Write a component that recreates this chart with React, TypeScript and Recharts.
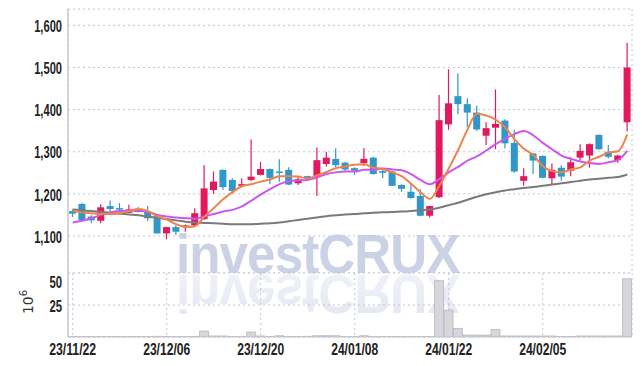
import { ComposedChart, Bar, Line, XAxis, YAxis, CartesianGrid } from "recharts"

// trading days, 23/11/22 .. 24/02/20
const dates = [
  "23/11/22", "23/11/23", "23/11/24", "23/11/27", "23/11/28", "23/11/29", "23/11/30", "23/12/01", "23/12/04", "23/12/05",
  "23/12/06", "23/12/07", "23/12/08", "23/12/11", "23/12/12", "23/12/13", "23/12/14", "23/12/15", "23/12/18", "23/12/19",
  "23/12/20", "23/12/21", "23/12/22", "23/12/26", "23/12/27", "23/12/28", "24/01/02", "24/01/03", "24/01/04", "24/01/05",
  "24/01/08", "24/01/09", "24/01/10", "24/01/11", "24/01/12", "24/01/15", "24/01/16", "24/01/17", "24/01/18", "24/01/19",
  "24/01/22", "24/01/23", "24/01/24", "24/01/25", "24/01/26", "24/01/29", "24/01/30", "24/01/31", "24/02/01", "24/02/02",
  "24/02/05", "24/02/06", "24/02/07", "24/02/08", "24/02/13", "24/02/14", "24/02/15", "24/02/16", "24/02/19", "24/02/20",
]

const opens = [
  1159, 1176, 1146, 1136, 1171, 1166, 1155, 1157, 1158, 1148,
  1106, 1121, 1121, 1125, 1140, 1209, 1257, 1233, 1219, 1233,
  1245, 1259, 1253, 1257, 1225, 1242, 1241, 1271, 1283, 1274,
  1261, 1273, 1286, 1254, 1253, 1221, 1205, 1195, 1148, 1192,
  1365, 1432, 1413, 1393, 1338, 1357, 1374, 1321, 1231, 1296,
  1290, 1237, 1262, 1255, 1286, 1291, 1340, 1300, 1280, 1370,
]
const highs = [
  1163, 1178, 1149, 1175, 1184, 1178, 1174, 1168, 1171, 1150,
  1122, 1126, 1127, 1166, 1268, 1253, 1258, 1237, 1237, 1329,
  1276, 1260, 1282, 1263, 1241, 1243, 1310, 1300, 1308, 1276,
  1263, 1308, 1288, 1261, 1255, 1223, 1225, 1211, 1172, 1435,
  1496, 1486, 1427, 1409, 1370, 1448, 1377, 1352, 1261, 1297,
  1291, 1272, 1268, 1287, 1318, 1320, 1341, 1316, 1293, 1559,
]
const lows = [
  1145, 1137, 1130, 1130, 1150, 1154, 1155, 1156, 1136, 1106,
  1092, 1102, 1110, 1123, 1138, 1200, 1209, 1201, 1217, 1230,
  1244, 1223, 1229, 1221, 1221, 1234, 1195, 1265, 1263, 1255,
  1245, 1266, 1246, 1237, 1218, 1205, 1189, 1147, 1144, 1190,
  1352, 1389, 1358, 1350, 1316, 1306, 1308, 1250, 1219, 1247,
  1237, 1221, 1231, 1242, 1279, 1262, 1305, 1284, 1274, 1348,
]
const closes = [
  1153, 1138, 1137, 1168, 1164, 1163, 1163, 1161, 1142, 1106,
  1121, 1110, 1125, 1154, 1213, 1229, 1216, 1207, 1223, 1241,
  1259, 1238, 1250, 1222, 1235, 1235, 1280, 1286, 1268, 1258,
  1255, 1283, 1247, 1250, 1219, 1212, 1190, 1148, 1171, 1375,
  1415, 1413, 1393, 1353, 1356, 1366, 1320, 1253, 1242, 1279,
  1238, 1257, 1241, 1275, 1302, 1318, 1306, 1288, 1291, 1500,
]

const ma5 = [
  1160, 1156, 1154, 1152, 1152, 1154, 1159, 1164, 1159, 1147,
  1139, 1128, 1121, 1123, 1145, 1166, 1187, 1204, 1218, 1223,
  1229, 1234, 1242, 1242, 1241, 1236, 1244, 1252, 1261, 1265,
  1269, 1270, 1262, 1259, 1251, 1242, 1224, 1204, 1188, 1219,
  1260, 1304, 1353, 1390, 1386, 1376, 1358, 1330, 1307, 1292,
  1266, 1254, 1251, 1258, 1263, 1279, 1288, 1298, 1301, 1341,
]
const ma10 = [
  1132, 1136, 1142, 1150, 1156, 1159, 1160, 1160, 1157, 1150,
  1146, 1144, 1142, 1141, 1146, 1152, 1158, 1162, 1170, 1184,
  1198, 1211, 1223, 1230, 1232, 1233, 1239, 1247, 1251, 1253,
  1253, 1257, 1257, 1260, 1258, 1256, 1247, 1233, 1223, 1235,
  1251, 1264, 1279, 1289, 1303, 1318, 1331, 1342, 1349, 1339,
  1321, 1306, 1291, 1283, 1277, 1273, 1271, 1275, 1280, 1302,
]
const ma60 = [
  1163, 1161, 1159, 1157, 1155, 1153, 1151, 1149, 1146, 1143,
  1140, 1137, 1134, 1132, 1131, 1130, 1129, 1128, 1128, 1128,
  1129, 1130, 1132, 1135, 1138, 1141, 1144, 1147, 1149, 1151,
  1152, 1154, 1155, 1156, 1157, 1158, 1159, 1161, 1163, 1167,
  1173, 1179, 1186, 1193, 1199, 1204, 1208, 1211, 1214, 1216,
  1219, 1222, 1225, 1228, 1231, 1234, 1236, 1238, 1240, 1246,
]

// volume, millions of shares
const volumes = [
  0.4, 0.3, 0.3, 0.4, 0.3, 0.3, 0.3, 0.4, 0.3, 0.5,
  0.4, 0.3, 0.3, 0.4, 4.6, 0.8, 0.8, 0.3, 0.3, 3.9,
  0.8, 0.3, 1.0, 0.3, 0.4, 0.5, 1.0, 1.0, 1.0, 0.3,
  0.4, 1.0, 0.3, 0.3, 0.3, 0.4, 0.3, 0.3, 0.4, 44,
  21, 6.7, 1.5, 1.5, 1.5, 5.9, 0.8, 0.8, 0.8, 0.8,
  0.8, 0.8, 0.4, 0.3, 0.8, 0.8, 0.8, 0.8, 0.8, 45.5,
]

const xTicks = ["23/11/22", "23/12/06", "23/12/20", "24/01/08", "24/01/22", "24/02/05"]
const priceTicks = [1100, 1200, 1300, 1400, 1500, 1600]
const volTicks = [25, 50]

const RED = "#E3195F"
const BLUE = "#3197C9"
const BORDER = "#C9C9D3"
const GRID = "#C4C4DA"
const FONT = "'Liberation Sans', Arial, sans-serif"

const rows = dates.map((date, i) => ({
  date,
  open: opens[i],
  high: highs[i],
  low: lows[i],
  close: closes[i],
  range: [lows[i], highs[i]],
  ma5: ma5[i],
  ma10: ma10[i],
  ma60: ma60[i],
  vol: volumes[i],
}))

// the original labels use a narrow face: squeeze the glyphs to that width
const narrowWidth = (s: string) => {
  let w = 0
  for (const ch of s) w += /\d/.test(ch) ? 6.3 : ch === "/" ? 4.6 : 2.6
  return w
}

function YTick(props: any) {
  const { x, y, payload, tickFormatter } = props
  const s = tickFormatter ? tickFormatter(payload.value) : String(payload.value)
  return (
    <text x={x} y={y} dy="0.42em" textAnchor="end" fill="#222" fontSize={16} fontWeight={700}
      fontFamily={FONT} textLength={narrowWidth(s)} lengthAdjust="spacingAndGlyphs">
      {s}
    </text>
  )
}

function XTick(props: any) {
  const { x, y, payload } = props
  const s = String(payload.value)
  return (
    <text x={x} y={y} dy="0.78em" textAnchor="middle" fill="#222" fontSize={16} fontWeight={700}
      fontFamily={FONT} textLength={narrowWidth(s)} lengthAdjust="spacingAndGlyphs">
      {s}
    </text>
  )
}

function Candle(props: any) {
  const { x, y, width, height, payload } = props
  const { open, close, high, low } = payload
  const color = close >= open ? RED : BLUE
  const top = Math.min(y, y + height)
  const h = Math.abs(height)
  const span = high - low || 1
  const toY = (v: number) => top + ((high - v) / span) * h
  const cx = x + width / 2
  const bTop = toY(Math.max(open, close))
  const bBot = toY(Math.min(open, close))
  return (
    <g>
      <line x1={cx} x2={cx} y1={top} y2={top + h} stroke={color} strokeWidth={1.2} />
      <rect x={x} y={bTop} width={width} height={Math.max(bBot - bTop, 1.5)} fill={color} />
    </g>
  )
}

function VolLabel(props: any) {
  const { viewBox } = props
  const cy = viewBox.y + viewBox.height / 2
  return (
    <text
      transform={`translate(33, ${cy - 3}) rotate(-90)`}
      textAnchor="middle"
      fill="#333"
      fontSize={14}
      fontFamily="'DejaVu Sans', sans-serif"
    >
      10<tspan dy={-6} fontSize={10}>6</tspan>
    </text>
  )
}

function Watermark() {
  return (
    <div
      style={{
        position: "absolute",
        left: 176,
        top: 234,
        height: 40,
        lineHeight: "40px",
        fontSize: 55,
        fontWeight: 700,
        fontFamily: "'Liberation Sans', Arial, sans-serif",
        letterSpacing: -1,
        color: "#CBD2E6",
        whiteSpace: "nowrap",
        transform: "scaleX(0.93)",
        transformOrigin: "0 0",
        WebkitBoxReflect: "below 0px linear-gradient(to bottom, rgba(0,0,0,0.5), rgba(0,0,0,0.3))",
      } as any}
    >
      investCRUX
    </div>
  )
}

export default function App() {
  return (
    <div style={{ position: "absolute", left: 0, top: 0, width: 642, height: 366, background: "#fff" }}>
      <Watermark />
      <div style={{ position: "absolute", left: 0, top: 0 }}>
        <ComposedChart width={642} height={273} data={rows} margin={{ top: 9, right: 10, bottom: 0, left: 0 }}>
          <CartesianGrid stroke={GRID} strokeDasharray="2 3" />
          <XAxis dataKey="date" ticks={xTicks} interval={0} height={0} tick={false} tickLine={false} axisLine={false} />
          <XAxis xAxisId="top" dataKey="date" orientation="top" height={0} tick={false} tickLine={false} axisLine={{ stroke: BORDER }} />
          <YAxis
            domain={[1012, 1639]}
            ticks={priceTicks}
            allowDataOverflow
            width={68}
            tickLine={false}
            tickMargin={0}
            axisLine={{ stroke: BORDER, strokeWidth: 1.5 }}
            tick={<YTick />}
            tickFormatter={(v) => Number(v).toLocaleString("en-US")}
          />
          <YAxis yAxisId="right" orientation="right" width={0} domain={[0, 1]} tick={false} tickLine={false} axisLine={{ stroke: BORDER }} />
          <Line dataKey="ma60" type="monotone" stroke="#7A7A7A" strokeWidth={2} dot={false} isAnimationActive={false} />
          <Bar dataKey="range" barSize={7} shape={Candle} isAnimationActive={false} />
          <Line dataKey="ma10" type="monotone" stroke="#CB58EE" strokeWidth={2} dot={false} isAnimationActive={false} />
          <Line dataKey="ma5" type="monotone" stroke="#EE8448" strokeWidth={2} dot={false} isAnimationActive={false} />
        </ComposedChart>
      </div>
      <div style={{ position: "absolute", left: 0, top: 272 }}>
        <ComposedChart width={642} height={94} data={rows} margin={{ top: 1, right: 10, bottom: 0, left: 0 }} barCategoryGap={0}>
          <CartesianGrid stroke={GRID} strokeDasharray="2 3" />
          <XAxis
            dataKey="date"
            ticks={xTicks}
            interval={0}
            height={29}
            tickLine={false}
            tickMargin={0}
            axisLine={{ stroke: BORDER }}
            tick={<XTick />}
          />
          <XAxis xAxisId="top" dataKey="date" orientation="top" height={0} tick={false} tickLine={false} axisLine={{ stroke: "#B8B8C2" }} />
          <YAxis
            domain={[0, 50]}
            ticks={volTicks}
            allowDataOverflow
            width={68}
            tickLine={false}
            tickMargin={0}
            axisLine={{ stroke: BORDER, strokeWidth: 1.5 }}
            tick={<YTick />}
            label={{ content: VolLabel }}
          />
          <YAxis yAxisId="right" orientation="right" width={0} domain={[0, 1]} tick={false} tickLine={false} axisLine={{ stroke: BORDER }} />
          <Bar dataKey="vol" fill="#D6D6DC" stroke="#B4B4BE" strokeWidth={0.8} isAnimationActive={false} />
        </ComposedChart>
      </div>
    </div>
  )
}
